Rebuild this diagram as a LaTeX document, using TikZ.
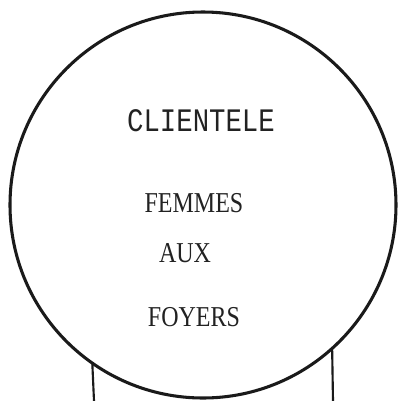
\documentclass[tikz,border=0pt]{standalone}
\usepackage{fontspec}
\usepackage{xcolor}
\usepackage{graphicx}
\usepackage{tikz}
\usetikzlibrary{positioning,calc}
\newfontfamily\typewriter{Liberation Mono}
\newfontfamily\printface{Liberation Serif}
\definecolor{Ink}{HTML}{1A1A1A}
\definecolor{Type}{HTML}{222222}
\newcommand{\tallword}[1]{\scalebox{1}[1.2]{#1}}
\tikzset{
  ring/.style={
    draw=Ink, circle, line width=2.3pt,
    minimum size=289.5pt, inner sep=0pt, outer sep=0pt
  },
  leg/.style={draw=Ink, line width=1.6pt},
  typed/.style={font=\typewriter\fontsize{20.5}{24}\selectfont,color=Type,inner sep=0pt},
  printed/.style={font=\printface\fontsize{18}{22}\selectfont,color=Type,inner sep=0pt}
}
\begin{document}
\begin{tikzpicture}[x=0.75pt,y=-0.75pt]
  \useasboundingbox (0,0) rectangle (400,401);
  \node[ring] (globe) at (203,205) {};
  \node[typed] (clientele) at (201,121) {\tallword{CLIENTELE}};
  \node[printed] (femmes) at (194,203) {\tallword{FEMMES}};
  \node[printed] (aux) at (185,253) {\tallword{AUX}};
  \node[printed] (foyers) at (194,317) {\tallword{FOYERS}};
  \coordinate (footL) at (94,401);
  \coordinate (footR) at (333,401);
  \draw[leg] (globe.235.6) -- (footL);
  \draw[leg] (globe.312.3) -- (footR);
\end{tikzpicture}
\end{document}
